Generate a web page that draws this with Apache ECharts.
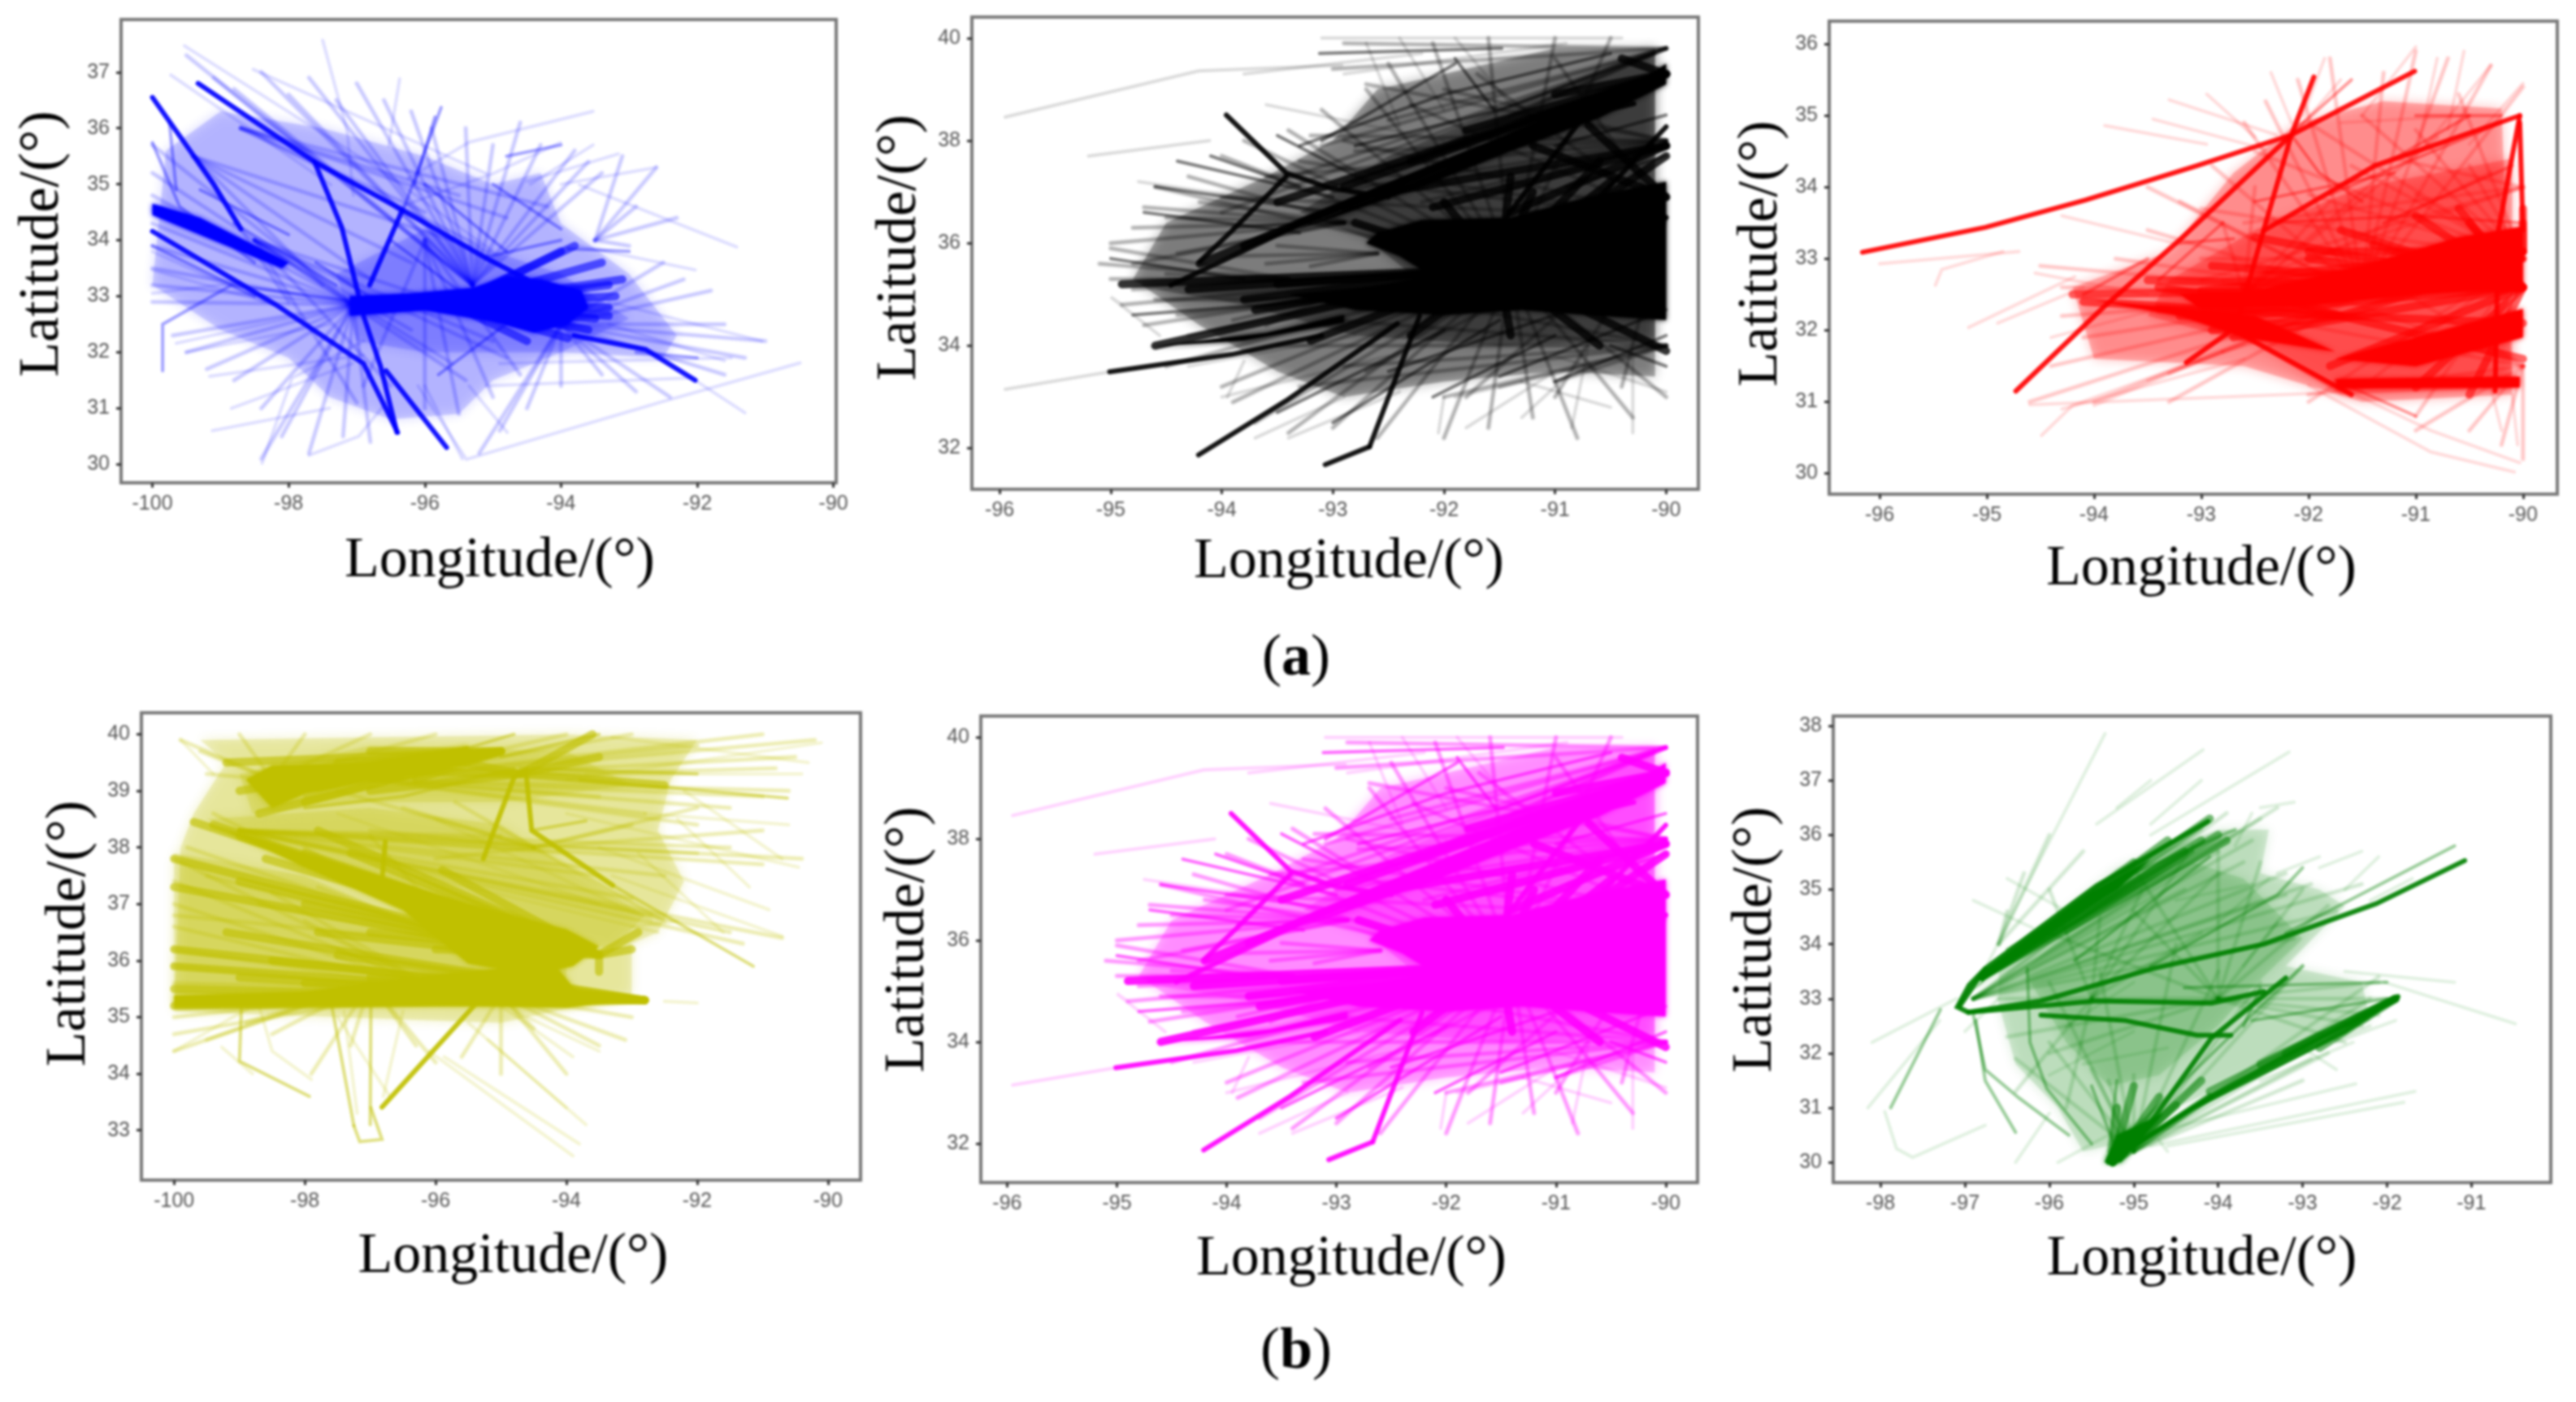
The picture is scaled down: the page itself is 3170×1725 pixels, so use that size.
<!DOCTYPE html>
<html>
<head>
<meta charset="utf-8">
<style>
html,body{margin:0;padding:0;background:#fff}
#main{width:3170px;height:1725px}
#main canvas{filter:blur(1.4px)}
</style>
<script src="https://cdn.jsdelivr.net/npm/echarts@6/dist/echarts.min.js"></script>
</head>
<body>
<div id="main"></div>
<script>
// tick labels
var lonTicksA = [-100, -98, -96, -94, -92, -90]
var lonTicksB = [-96, -95, -94, -93, -92, -91, -90]
var lonTicksC = [-98, -97, -96, -95, -94, -93, -92, -91]
var latTicksBlue = [30, 31, 32, 33, 34, 35, 36, 37]
var latTicksBlack = [32, 34, 36, 38, 40]
var latTicksRed = [30, 31, 32, 33, 34, 35, 36]
var latTicksYellow = [33, 34, 35, 36, 37, 38, 39, 40]
var latTicksGreen = [30, 31, 32, 33, 34, 35, 36, 37, 38]

// tracks, flat lon,lat,lon,lat...
// *Fans / *Dense: first pair is where the bundle meets, the others are where its tracks end
// *Soft: outline of the areas where the tracks are too many to tell apart
var blueSoft = [
  [-99.8,35.6,-99,36.3,-97.5,36,-96,35.5,-95,35,-94.3,35.2,-94,34.3,-93,33.4,-92.3,32.3,-92.5,31.9,-94,32,-95,31.5,-95.5,30.9,-96.5,30.8,-97.4,31.2,-98,31.9,-99,32.4,-100,33.2],
  [-97.3,33.4,-96,34.2,-95,33.8,-94,33.4,-93,32.6,-94,32,-96,32,-97,32.2]
]
var blueFans = [
  [-95.3,33.2,-99.5,37.3,-99.1,36.9,-98.8,36.7,-98.4,37,-98,36.6,-97.7,36.9,-97.3,36.5,-97,36.8,-96.6,36.5,-96.2,36.3,-95.9,36,-95.4,36,-95,35.7,-94.6,36.1,-94.3,35.7,-93.8,35.6,-93.6,35.4,-93.4,35.2],
  [-97.05,32.85,-100,35.7,-100,35.2,-100,34.8,-100,34.3,-100,33.9,-100,33.5,-100,33.2,-100,32.9,-99.7,32.3,-99.5,32,-99.2,31.7,-98.8,31.5,-98.4,31,-98.1,30.5,-98.4,30.1,-97.7,30.2,-97.2,30.5,-96.8,30.4],
  [-94,32.5,-92.5,33.6,-92.2,33.3,-91.8,33.1,-91.6,32.5,-91,32.2,-91.3,31.9,-91.6,31.6,-92.4,31.2,-92.9,31.3,-93.4,31.6,-94,31.4,-94.5,31,-94.9,30.6,-95.2,30.2],
  [-96,34,-96.9,31.4,-96,31,-95.5,30.9,-95,31.2,-94.6,31.6],
  [-93.5,34,-92.6,35.3,-93.1,35.5,-92.9,34.6,-92.3,34.4,-93,33.9],
  [-98.5,34,-96.2,32.4,-96,33,-95.6,31.8,-95.4,31.5,-96.5,31.4,-97,31.1,-95,32.2,-94.8,31.9],
  [-99.4,35.5,-96.8,33.3,-96.2,33.6,-95.6,34,-97.5,33.2,-98,32.9],
  [-98.7,36,-96,34.5,-95.5,34.8,-94.8,34.4,-95.2,33.9,-94.2,34.6]
]
var blueDense = [
  [-95.6,32.85,-93.3,33.2,-93.2,33,-93.3,32.8,-93.5,32.6,-93.6,32.4,-93.8,33.9,-93.4,33.6,-94,33.8,-93.9,32.25,-94.5,32.2,-93.1,33.3,-93.3,32.65]
]
var blueCore = [
  [-97.1,33,-96.2,33.05,-95.3,33.15,-94.8,33.35,-94.3,33.3,-93.7,33.1,-93.6,32.8,-93.9,32.5,-94.4,32.35,-95,32.55,-96,32.75,-97.1,32.65],
  [-100,34.65,-99.3,34.4,-98,33.6,-98.1,33.5,-99.4,34.15,-100,34.45]
]
var blueStrong = [
  [-99.33,36.8,-97.62,35.4,-96.33,34.54,-95.1,33.68,-94.1,33.05],
  [-97.62,35.4,-97.22,34.23,-96.97,33],
  [-96.33,34.54,-96.81,33.2],
  [-100,34.16,-98.19,32.85,-96.9,31.8,-96.4,30.57],
  [-96.9,32.65,-96.65,31.75,-96.41,30.57],
  [-96.57,31.67,-95.68,30.3],
  [-93.81,32.3,-92.76,32.05,-92.03,31.5],
  [-100,36.55,-99.1,35,-98.7,34.2]
]
var blueMid = [
  [-95.76,36.37,-96.3,34.6],[-95.85,36.2,-96.15,35],[-99.75,36.1,-99.65,34.9],
  [-99.85,31.67,-99.85,32.5,-98.84,33.2,-97,32.9],[-100,35.74,-99.6,34.6,-98.5,33.6],
  [-97.3,33.2,-98.8,34.3],[-95.1,33.7,-94,34],[-93.9,33.85,-93,33.8],[-92.9,32,-92,31.9],
  [-100,33.9,-98.5,33],[-99.3,34.9,-98,34.1],[-97.6,33.6,-96.7,32.9],[-96.5,34,-95.5,33.1],
  [-95,35,-94,34.2],[-94.8,35.5,-94,35.7],[-96,35,-94.8,33.8],[-95.8,31.6,-94.7,32.6]
]
var blueFaint = [
  [-99.53,37.47,-96.57,35.19,-95,33.8],[-98.52,37.05,-95.1,35.19],[-97.5,37.57,-97.14,35.95,-97.05,34.8],
  [-96.37,36.88,-96.53,35.68],[-93.53,36.3,-95.35,35.75,-96.25,35.1],[-94.01,35.74,-95,35.19,-96.35,34.6],
  [-93.53,35.7,-94.45,35],[-92.6,35.3,-94,35],[-93.16,35.54,-94.5,35.05],[-91.42,33.88,-93.73,34.99],
  [-92.03,33.47,-93.73,33.9],[-91.05,32.2,-93.3,32.9],[-90.49,31.81,-92.51,31.12,-95.39,30.09,-96.1,31.4],
  [-91.3,30.92,-92.03,31.5],[-99.73,36.95,-97.38,34.99],[-99.12,30.6,-97.4,31],[-98.39,30.02,-97.95,31.54,-96.9,32.2],
  [-97.7,30.16,-96.97,30.5,-96.57,31.1],[-98.84,31,-97.06,31.8],[-99.65,32.16,-97.06,32.85],[-99.5,32,-97.4,32.5],
  [-99.16,31.57,-96.9,31.95],[-100,33.47,-98.19,32.85],[-100,33.05,-98.7,33.25],[-100,33.8,-98.35,32.9],
  [-95.35,31.4,-94.79,30.57],[-96,31.4,-95.45,30.1],[-95.1,31.4,-92.1,31.54],[-94.9,31.8,-91.5,31.9],[-93.3,32.5,-91.6,31.85]
]

var blackSoft = [
  [-94.8,35.3,-94.5,36.4,-93.6,37.3,-93,38,-92.6,39,-91,39.8,-90.1,39.8,-90.1,33.4,-91,33.5,-92,33.3,-92.9,33,-93.5,33.5,-94.2,34.4],
  [-93.3,36.6,-92.5,37.7,-91.5,38.6,-90.1,39.8,-90.1,34.1,-91.5,34,-92.8,34.2,-93.8,34.8,-94.6,35.1,-93.5,35.3,-92.3,35.4,-92.7,36.1]
]
var blackFans = [
  [-91.4,35.5,-94.6,37.1,-94.3,37.3,-94,37.7,-93.8,38,-93.4,38.2,-93.1,38.6,-92.7,39,-92.5,39.5,-92.1,39.9,-91.6,40,-91,40,-90.5,40,-94.9,34.8,-94.7,34.4,-94.3,34.2,-94.5,33.6,-94,33.2,-93.9,32.9,-93.7,32.5,-93.4,32.3,-93,32.4,-92.6,32.2,-92,32.2,-91.6,32.4,-91.2,32.6,-90.8,32.2,-90.3,32.6,-90,33],
  [-90,36.5,-92.9,38,-92.3,38.7,-91.7,39.3,-91,39.6,-94,36.9,-93,34.9,-92.7,33.5,-91.8,33,-91,33,-90.4,33.2,-93.3,37.6,-92.8,37.2],
  [-90,38,-92.7,39.1,-93.2,38.1,-93.6,37.3,-93,37,-92,39,-92.8,37.8,-91.6,36.9,-92.2,36.8],
  [-90,39.8,-92.5,38.4,-93.1,37.9,-93.5,37.2,-94,36.6,-91.4,38.5,-92,37.9,-92.9,39.9,-93,39.4],
  [-90,34,-92.5,35,-93,34.5,-93.5,34,-92,33,-91.5,33.2,-91,33.3,-93.3,33.2,-92.9,33.6],
  [-93.4,35.3,-95,35.3,-95.1,35.6,-95,35.9,-94.8,35.1,-94.5,35.4,-94.7,35.2],
  [-92.9,36.4,-95,36,-94.8,36.3,-94.7,36.7,-94.4,35.8,-94.8,35.6,-94.2,36.8,-94.5,36.5],
  [-93.1,34.9,-94.4,34.6,-94.6,34.9,-93.9,34.5,-93.6,34.4],
  [-92.6,35.8,-93.5,35.95,-93.9,35.75,-93.2,35.55,-93.6,35.6]
]
var blackDense = [
  [-91.5,35.5,-90.5,37.2,-91.2,37,-92,36.8,-92.8,36.4,-93.5,35.2,-94.3,35.1,-94.9,35.2,-93.7,34.7,-94.6,34,-93.2,34.1,-92.3,34.2,-91.4,34.2,-90.6,34,-90,33.9,-91.4,37.3,-90.6,37.6,-90,37.7,-93.8,34.9],
  [-90,39.3,-93.8,35.95,-93.3,36.4,-92.9,36.7,-94.2,35.6,-93.5,36.8,-92.9,37.1,-92.3,37.6,-91.8,38.2,-91,38.9,-90.4,39.6],
  [-90,37.9,-91.4,36.6,-92.1,36.7,-92.5,37],[-90,36.9,-90.7,38.3,-91.2,37.9]
]
var blackCore = [
  [-92.6,36.2,-92.2,36.45,-91.4,36.5,-90.7,36.9,-90,37.2,-90,34.5,-90.7,34.6,-91.3,34.7,-92,34.6,-92.8,34.7,-93.4,35,-92.4,35.2,-92.1,35.35,-92.4,35.75,-92.7,36],
  [-93.4,36.2,-92.9,36.65,-92.2,37.25,-91.4,38,-90.6,38.7,-90,39.5,-90,39.1,-90.6,38.45,-91.4,37.8,-92.2,37.1,-93,36.5],
  [-94.66,33.98,-93.6,34.25,-92.9,34.6,-92.9,34.45,-93.8,34.1]
]
var blackStrong = [
  [-94.21,31.87,-93.42,32.93,-92.42,34.43],
  [-92.67,32.03,-92.42,33.45,-92.22,34.58],
  [-93.07,31.68,-92.67,32.03],
  [-93.96,38.5,-93.42,37.37,-93.02,37.07,-92.5,36.9],
  [-94.46,35.18,-94,35.65,-93.27,36.4],
  [-93.42,37.3,-93.91,36.24,-94.2,35.64],
  [-91.43,36.54,-90.73,38.5,-90.29,38.72],
  [-90.73,36.6,-90,38.27],
  [-95.01,33.49,-93.91,33.83,-93.1,34.2]
]
var blackMid = [
  [-93.12,39.7,-91.48,39.8],[-91.9,39.6,-91.55,38.6],[-93.9,36.3,-93.2,36.4],[-93.1,38,-91.9,39.5],
  [-92.8,37.9,-91.5,38.6,-90.1,39.7],[-93.3,37.9,-92,38.9,-90.5,39.7],[-92.5,33.5,-91,34.6],[-93.5,32.7,-92,34.3],
  [-93,32.5,-91.5,34.5],[-92.1,33,-91,34.2],[-91,33.3,-90,34.2],[-91.5,33.4,-90,34.7],[-94.8,34.6,-93,34.9],
  [-94.7,36.6,-93.3,36.2],[-94.6,37.1,-93,36.6],[-94.4,37.6,-93,36.9],[-93.5,38.1,-92.7,37.2],[-95,35.7,-93.8,35.3],
  [-90.5,34,-90,33.6],[-91,37.9,-90,38.5],[-90.9,37.1,-90,37.7],[-94.1,37.7,-93.3,37.1]
]
var blackFaint = [
  [-95.95,33.15,-95.01,33.49],[-95.95,38.46,-94.21,39.36,-92.92,39.47],[-95.2,37.7,-94.11,38],
  [-94.9,34.8,-95,34.95,-94.56,34.2],[-94.75,37.2,-93.5,36.8],[-93.8,39.3,-92.2,39.7],[-93.1,40,-90.4,40],
  [-92.7,39.9,-92.4,38.3],[-92.4,40,-92,38.6],[-91.9,40,-91.4,38.7],[-92.9,39.3,-90.9,39.9],[-93.6,38.7,-92,38],
  [-94,33,-92.5,33.8],[-94.3,33.6,-92.8,34.2],[-93.95,33,-93.8,33.7],[-93.7,32.2,-92.9,33],[-93.4,32.2,-92.4,33.1],
  [-92.05,32.3,-92,33],[-91.8,32.4,-91,33.5],[-91.3,32.6,-90.9,33.4],[-90.85,32.4,-90.7,34],[-90.3,32.3,-90.3,33.8],
  [-90.5,32.8,-91.3,33.3],[-91.9,33,-91.3,33.3],[-90,33.1,-91,33.8]
]

var redSoft = [
  [-94.2,32.6,-93.3,33.1,-92.7,34.2,-92.1,34.9,-91.3,35.2,-90.2,35.1,-90.1,31.1,-91.5,31,-92.6,31.5,-94,31.6],
  [-93.3,32.7,-92.5,33.4,-91.5,34,-90.1,34.4,-90.1,31.2,-91.7,31.1,-92.5,31.8,-93.5,32.2]
]
var redFans = [
  [-91.5,32.5,-94.5,32.9,-94.3,32.6,-94.3,32.2,-94.1,31.9,-94.4,31.5,-94.6,31,-94,31,-93.3,31,-93.3,31.4,-93.8,33,-93.5,33.4,-93.2,33.8,-93.5,34,-92.9,34.3,-92.6,34.9,-92.4,35.2,-92.1,35.5,-91.8,35.8,-91.3,35.6,-91,35.9,-90.7,35.8,-90.3,35.7,-90,35.4],
  [-90,33,-92.5,34.5,-92,34.9,-91.5,35,-91,34.8,-90.6,35.3,-93,33.7,-93,33,-92.8,32.7,-92.8,31.7,-92,31,-91.5,31.2,-91,30.8,-92,33.9,-91.6,34.3,-91,33.9,-90.5,34.3],
  [-90,31.5,-91,30.6,-90.5,30.6,-90.2,30.4,-90,30.2,-92,31.1,-92.5,32.2,-91.5,32.9,-92.7,33],
  [-92.6,32.5,-91.8,33.8,-91.3,34.2,-90.8,34.7,-90.3,34.2,-92.8,33.5,-92.5,34],
  [-90,34,-93,32.7,-92.4,32.8,-91.2,34.4,-92.6,33.5]
]
var redDense = [
  [-90,32.6,-94.2,32.5,-93.5,32.7,-92.9,32.9,-92.5,33.3,-91.7,33.4,-91,33.6,-90.6,33.7,-93.2,32.2,-92.7,31.9,-91.8,31.5,-91,31.2,-90.5,31.1,-92,33,-91.4,33.2,-90.5,33.5],
  [-91.7,32.2,-94.1,32.4,-93.4,32.3,-92.9,32,-93.4,32.6,-92.6,32.6,-90,32.1,-90,31.6,-90,33],
  [-90,33.1,-93,32.55,-92.5,32.75,-92,33.1,-90,33.5,-90,33.7]
]
var redCore = [
  [-92.5,32.55,-91.5,32.9,-90.6,33.3,-90,33.45,-90,32.6,-91,32.5,-92,32.35],
  [-91.75,31.6,-91,31.9,-90.5,32.1,-90,32.3,-90,31.9,-91,31.5],
  [-94,32.42,-92.5,32.2,-91.75,31.7,-92.6,31.9,-93.2,32.2],
  [-93.2,32.5,-92,32.6,-92,32.35,-93,32.3],
  [-91.74,31.32,-90.03,31.35,-90.03,31.2,-91.74,31.19]
]
var redStrong = [
  [-96.16,33.09,-95.01,33.44,-94.08,33.82,-93.04,34.3,-92.16,34.73,-91.01,35.62],
  [-94.73,31.15,-93.92,32.31,-93.19,33.28,-92.16,34.73,-91.95,35.54],
  [-92.16,34.73,-92.42,33.39,-92.68,32.04,-93.14,31.55],
  [-92.42,33.39,-91.38,34.3,-90.03,35],
  [-90.03,35,-90.23,33.39,-90.26,31.15],
  [-90.03,34.9,-90,33.4],
  [-92.7,32,-91.6,31.1]
]
var redMid = [
  [-93.19,33.22,-92.7,33.28],[-92.4,33.5,-91,33.6,-90,33.5],[-92.16,34.73,-91.9,34.2,-91.5,33.8],[-92.2,34.7,-91.6,35.5],
  [-91.8,33.9,-90.2,34.9],[-91.3,33.5,-90.1,34.3],[-93.4,32.7,-92.8,33.5],[-91,35,-90.2,35],[-91.75,31.3,-91,30.8],
  [-94.1,32.5,-93.5,33],[-92.5,33.8,-91.2,34.2],[-91.2,34.4,-90.5,35]
]
var redFaint = [
  [-91.74,31.23,-90.86,30.6,-90.03,30.15],[-92,31.23,-90.86,30.3,-90.08,30.02],[-94.6,30.96,-91.9,31.12],[-94.3,30.9,-92.6,31.6],
  [-94.49,30.53,-94.2,30.95,-93,31.6],[-96,32.93,-94.7,33.1],[-95.48,32.63,-95.42,32.85,-94.85,33.1],[-95.17,32.04,-94.18,32.75],
  [-94.9,32.1,-94.1,32.6],[-93.45,34.95,-92.4,34.53],[-93.9,34.86,-92.95,34.6],[-93.3,35.22,-92.3,34.73],[-92.95,35.3,-92.5,34.7],
  [-92.35,35.6,-92.16,34.9],[-91.85,35.8,-92.05,35],[-91.7,35.5,-92.1,34.8],[-91,35.96,-91.5,35],[-90.8,35.8,-91,34.4],
  [-90.55,35.9,-90.7,34.8],[-90.3,35.7,-90.9,34.6],[-90,35.45,-90.5,34.6],[-91.7,34.9,-90.5,35],[-94.3,33.6,-93.2,33.2],
  [-94.55,32.8,-93.5,32.5],[-94.4,31.9,-93.4,32.3],[-93.5,31.3,-92.6,31.8],[-94,30.95,-92.8,31.7],[-90.2,30.6,-90.3,31.2],[-90.05,30.4,-90.1,31.1]
]

var yellowSoft = [
  [-99.9,38,-99.7,38.6,-99.2,39.5,-99.6,39.9,-94,40,-92,39.9,-92.4,39.2,-92.6,38.3,-92.2,37.4,-92.6,36.5,-93,36.3,-93,35.4,-95,34.9,-100,35.1],
  [-100,37.9,-98,37.5,-96,36.5,-94,36,-94,35.4,-100,35.3],
  [-99.5,38.5,-97,38.7,-95,38.4,-92.8,36.8,-93.3,36.2,-96,37,-98,37.7],
  [-99,39.3,-97,39.8,-94,39.7,-93,39.1,-95,38.8,-97,38.8,-98.8,38.6]
]
var yellowFans = [
  [-96,35.5,-100,37.8,-100,37.4,-100,37,-100,36.6,-100,36.2,-100,35.9,-100,35.6,-100,35,-100,34.7,-98.5,37.2,-98,36.7,-97.5,36.2],
  [-95.5,36.3,-99.8,38,-99.5,37.5,-98,38,-97,38.2,-99.4,38.6,-98.7,37,-97.8,37.3,-100,36.8],
  [-97,39.2,-90.2,39.9,-90.5,39.6,-90.8,39.4,-90.6,39,-91,38.9,-91.5,38.7,-92,39.8,-93,40,-94,40,-91,40,-92,38.4,-92.8,38.6,-93.5,38.9],
  [-98.5,39.2,-99.9,39.9,-99.5,39.3,-99,40,-98,40,-97,40,-96,40,-99.6,39.7],
  [-99,38.3,-92.7,36.8,-93,37.1,-93.5,37.5,-92.5,37.5,-92,37.9,-91.5,38,-91,37.7,-90.4,37.8,-90.7,36.4,-91.5,36.5,-91.3,36.3,-94,37.9,-95,38.2],
  [-94.5,38,-97.5,39,-96.5,38.7,-95.7,38.8,-92,38.7,-91,38.3,-92.5,36.7,-97,38.3,-96,37.8,-93,38.4],
  [-97,35.6,-98.5,34.7,-97.9,34,-97.3,34.5,-96.3,34.5,-96,34.2,-99.5,34.6,-100,34.4,-98.9,34.9],
  [-95,35.4,-93.5,34.5,-93,35,-94,34,-95,34,-95.6,34.3,-94.5,34.8,-93.1,34.6]
]
var yellowDense = [
  [-93.5,36.1,-99.7,38.45,-99,38.2,-98,37.9,-97.3,37.9,-96.6,37.1,-97,36.5,-96,36.2,-92.9,36.5,-93,36.2,-93.5,35.8,-97.8,38.3,-95.9,37.6,-99.4,38.4,-98.6,37.8],
  [-92.8,35.3,-100,35.5,-100,35.2,-98,35.6,-97,35.7,-96,35.3,-100,35.9,-99,35.7,-98.5,36,-97.5,36.1,-100,36.2,-99.2,36.5],
  [-95,39.7,-99.2,39.5,-99,39,-98.7,38.6,-98,38.8,-97.5,39.5,-97,39.7,-96.3,39.2,-98.4,39.3,-97.8,39.05],
  [-93.9,36,-100,37.3,-100,37.8,-99,37.4,-98,37,-97.8,36.5],
  [-94.7,39.3,-98,39.4,-97,39,-96,39.6,-92.5,39.1,-93.5,39.6,-93.6,40]
]
var yellowCore = [
  [-98.9,39.2,-98.5,39.45,-97,39.5,-95.5,39.8,-95.5,39.55,-96.5,39.3,-98,38.95,-98.5,38.7],
  [-99.2,38.3,-98.5,38.05,-97,37.55,-95.5,37,-94,36.55,-93.5,36.25,-93.9,35.9,-94.5,35.75,-95.5,35.95,-96.5,36.9,-98,37.65],
  [-100,35.38,-98,35.45,-96,35.75,-94.2,35.95,-93.8,35.4,-93,35.3,-94,35.17,-96,35.2,-100,35.17]
]
var yellowStrong = [
  [-94.8,39.24,-94.62,39.36,-94.53,38.3,-93.29,37.33],
  [-95.27,37.8,-94.8,39.24],
  [-96.77,38.1,-96.82,37.4],
  [-96.82,33.41,-95.35,35.28]
]
var yellowMid = [
  [-94.53,38.3,-93.7,38.47],[-93.29,37.33,-91.14,35.9],[-97,33.1,-96.99,35.2],[-97.25,33.08,-97.6,35.28],
  [-97.25,33.08,-97.16,32.8,-96.82,32.84,-96.99,33.4],[-98.97,35.2,-99,34.22,-97.93,33.6],[-94.8,39.4,-96.5,38.9,-98,38.7],
  [-94.7,39.4,-92,39.3],[-93.8,39.2,-90.62,38.87],[-95,39.6,-93.5,40],[-98,38.9,-94.8,40]
]
var yellowFaint = [
  [-99.27,34.47,-98.8,34],[-95.87,34.3,-93.8,32.76],[-96.1,34.4,-93.9,32.55],[-95.5,34.9,-93.7,33.1],[-95.2,34.6,-94,33.4],
  [-94,39.2,-90.1,39.85],[-93.7,39.3,-90.4,39.3],[-94,38.6,-90.45,37.65],[-93.3,37.5,-90.7,36.43],[-93.5,38,-90.9,36.9],
  [-93.3,39.95,-90.3,39.5],[-92.8,38.6,-90.6,38.4],[-93,36.6,-92.3,36.7],[-92.5,35.28,-92,35.25],[-100,34.4,-98.8,35.2],
  [-99.9,39.9,-99.4,39.3],[-98.7,35.2,-98.5,34.4,-97.9,33.9],[-97.5,35,-96.7,33.6],[-97.4,35.1,-97.2,33.3],[-96.5,35.1,-96.8,33.6],
  [-95,35.2,-93.9,34.3],[-94.6,35,-93.5,34.4],[-96.2,37.5,-92.6,36.5],[-96,38.5,-92.7,36.7],[-97.5,38.6,-93.5,37],
  [-92.9,37.9,-91.6,36.5],[-92.3,38.5,-91.2,37.3],[-92.2,39,-90.7,37.8]
]

var greenSoft = [
  [-96.6,33.6,-95.2,35.4,-94,36.1,-93.4,36.1,-93.5,35.3,-92.8,35,-92.5,34.7,-93.2,33.6,-92.3,33.3,-92.2,32.6,-93.5,31.7,-94.5,31,-95,30.4,-95.6,30.2,-95.9,31,-96.4,31.8,-96.6,32.9],
  [-96.3,33.5,-95.4,34.8,-94.3,35.5,-93.7,35.2,-93,34.1,-93.6,33.2,-94,32.5,-94.7,31.6,-95.3,31.4,-95.8,32.2]
]
var greenFans = [
  [-96.9,33,-93.9,36.4,-93.5,36.3,-93.3,36.5,-93.6,35.9,-93.7,35.5,-93.2,35.3,-93.2,34.9,-92.9,35.1,-92.3,35.1,-92.6,34.6,-93.1,34.1,-94.2,36.1,-94,35.7,-94.4,35],
  [-95,30.2,-92.1,33.4,-92.2,33,-92.5,32.5,-92.7,32,-93.5,33.3,-94,33.5,-93,33.6,-94.5,34,-95.4,33.5,-96,33.3,-95.3,31.5,-95,31.6,-95.5,31.7,-96,32.2,-96.4,31.9,-92.9,31.9,-93,31.5],
  [-94,33,-92.1,33.3,-92,33,-92.1,32.7,-92.5,32.2,-92.3,32.5,-96.5,32.3,-96,32,-96.6,33,-93.5,35.5,-93,35,-92.7,34.7,-94,35.7,-95,35.4,-95,34.6,-96,34.2],
  [-95.5,33,-94.3,35.8,-94,35.3,-95.4,34.5,-96,35,-94.9,35,-94.2,34.2,-96.4,31.3,-95.8,31],
  [-96.6,34,-96.3,35.3,-96,36,-95.6,35.7,-96.5,34.6]
]
var greenDense = [
  [-96.8,33.4,-94.1,36.3,-94.4,35.7,-94,36,-95,35.5,-95.3,35,-94.2,35.9,-93.9,35.9,-94.6,35.9],
  [-95.25,30,-94.1,31.2,-94.2,31.5,-95,31.4,-94.7,31.2,-94.5,31.05,-95.2,31],
  [-91.9,33,-94.1,31.3,-93.5,31.8,-93.2,32,-92.8,32.1]
]
var greenCore = [
  [-96.9,33.15,-96.5,33.8,-95.5,34.95,-94.8,35.55,-95.2,35,-96,34.25,-96.65,33.5],
  [-95.35,30,-95.15,30,-94.65,30.9,-95.2,30.5]
]
var greenStrong = [
  [-97.06,32.87,-96.76,33.55,-95.44,35.07,-94.12,36.25],
  [-96.76,33.55,-96.95,33.25,-97.09,32.85,-96.96,32.75,-96.1,32.96,-94.78,33.55,-93.46,34,-92.13,34.74,-91.08,35.53],
  [-96.96,32.75,-95.44,32.96,-94.08,32.92,-93.46,33.13],
  [-96.1,32.7,-95.1,32.6,-94.25,32.33,-93.85,32.33],
  [-93.2,33.38,-94.08,32.28,-94.91,30.5,-95.3,30],
  [-95.3,30,-94.12,31.18,-91.87,33.04],
  [-95.1,30.2,-94.3,31,-92.5,32.4,-91.9,33]
]
var greenMid = [
  [-96.26,33.55,-96.23,32.2,-96.03,31.35,-95.5,30.34],[-96.9,32.7,-96.76,31.7,-96.36,31.18,-95.77,30.5],
  [-96.4,30.55,-96.76,31.5,-96.87,32.6],[-97.29,32.8,-97.88,31],[-96.5,33.9,-95,35.3,-93.8,36.1],[-95.8,34.2,-94.3,35.7],
  [-95.7,33.7,-94.1,35.6],[-94.8,33.6,-93.3,34.9,-93,35.4],[-93.2,34.2,-91.2,35.8],[-93.7,32.5,-93.5,33.2],
  [-95,30.6,-93,33.6],[-95.5,31.4,-95.2,30.2],[-95.2,31.5,-95.3,30.2],[-94.4,33.2,-92,33.3],[-93.6,32.6,-92,33]
]
var greenFaint = [
  [-95.34,37.86,-96.1,35.58,-96.76,33.55],[-94.18,37.56,-95.44,36.2],[-93.16,37.52,-94.8,36],[-92.03,33.3,-90.48,32.54],
  [-91.67,31.3,-94.8,30.3],[-92.37,31.44,-94.91,30.5],[-91.8,31.1,-94.6,30.3],[-97.95,30.93,-97.81,30.25,-97.62,30.09,-96.76,30.68],
  [-98.15,31,-97.3,32.6],[-98.1,32.2,-97.1,33],[-96.4,30,-96,30.9],[-95.9,30,-95.3,30.5],[-95.2,36.5,-94.8,37],[-94.8,36.2,-94.2,37],
  [-93.5,36.5,-93.1,36.6],[-93.8,35.8,-93.6,36.4],[-93.3,35.3,-92.8,35.6],[-92.5,35,-92.1,35.6],[-92.8,35.4,-92.3,35.7],
  [-92.2,34.8,-91.7,35.2],[-92.5,33.5,-91.2,33.3],[-93,32,-92.2,32.5],[-93.5,31.5,-92.4,32.2],[-93,32.1,-92.6,31.7],[-91.9,32.6,-92.6,32.2],
  [-96.9,34.8,-96.2,34.3],[-96.5,35.2,-95.8,34.6],[-97,32.4,-96.6,33],[-95.8,32.5,-95,33.3],[-96,31.6,-95,32.4],[-95.6,31.8,-94.6,32.1],
  [-94,34.4,-93.4,35.2],[-94.5,34.8,-93.6,35.1],[-93.7,33.6,-93.3,34.4],[-94.7,30.4,-94.6,30.2]
]

// layout of the six panels, px, and axis ranges; a = opacity of fans, faint lines, mid lines, dense fans, soft areas
var panels = [
  {color:'#0000ff', x:[-100.46,-89.96], y:[29.67,37.94], box:[149,24,880,570], lon:lonTicksA, lat:latTicksBlue, soft:blueSoft, fans:blueFans, dense:blueDense, core:blueCore, strong:blueStrong, mid:blueMid, faint:blueFaint, a:[.12,.13,.36,.6,.16], nameX:101, nameY:62, dx:26, dy:9},
  {color:'#000000', x:[-96.25,-89.71], y:[31.2,40.41], box:[1196,21,894,581], lon:lonTicksB, lat:latTicksBlack, soft:blackSoft, fans:blackFans, dense:blackDense, core:blackCore, strong:blackStrong, mid:blackMid, faint:blackFaint, a:[.18,.14,.5,.8,.3], nameX:93, nameY:55, dx:17, dy:7},
  {color:'#ff0000', x:[-96.47,-89.68], y:[29.71,36.32], box:[2251,26,896,582], lon:lonTicksB, lat:latTicksRed, soft:redSoft, fans:redFans, dense:redDense, core:redCore, strong:redStrong, mid:redMid, faint:redFaint, a:[.13,.14,.4,.6,.26], nameX:88, nameY:58, dx:10, dy:5},
  {color:'#c0c000', x:[-100.5,-89.5], y:[32.12,40.38], box:[174,877,885,575], lon:lonTicksA, lat:latTicksYellow, soft:yellowSoft, fans:yellowFans, dense:yellowDense, core:yellowCore, strong:yellowStrong, mid:yellowMid, faint:yellowFaint, a:[.18,.18,.5,.65,.22], nameX:93, nameY:60, dx:15, dy:16},
  {color:'#ff00ff', x:[-96.24,-89.71], y:[31.23,40.42], box:[1207,881,882,574], lon:lonTicksB, lat:latTicksBlack, soft:blackSoft, fans:blackFans, dense:blackDense, core:blackCore, strong:blackStrong, mid:blackMid, faint:blackFaint, a:[.26,.18,.6,.9,.26], nameX:94, nameY:60, dx:15, dy:12},
  {color:'#008000', x:[-98.56,-90.06], y:[29.63,38.18], box:[2256,881,883,574], lon:lonTicksC, lat:latTicksGreen, soft:greenSoft, fans:greenFans, dense:greenDense, core:greenCore, strong:greenStrong, mid:greenMid, faint:greenFaint, a:[.1,.12,.4,.55,.14], nameX:100, nameY:60, dx:12, dy:12}
]

var serif = '"Liberation Serif", "DejaVu Serif", serif'

function chunk(flat) {
  var out = []
  for (var i = 0; i < flat.length; i += 2) out.push([flat[i], flat[i + 1]])
  return out
}

// one track per end point of a bundle
function spokes(fans) {
  var out = []
  fans.forEach(function (f) {
    for (var i = 2; i < f.length; i += 2) out.push([f[0], f[1], f[i], f[i + 1]])
  })
  return out
}

function polySeries(i, polys, color, opacity, blur) {
  var shapes = polys.map(chunk)
  return {
    type: 'custom', xAxisIndex: i, yAxisIndex: i, silent: true,
    data: shapes.map(function (s) { return s[0] }),
    renderItem: function (params, api) {
      return {
        type: 'polygon',
        shape: { points: shapes[params.dataIndex].map(function (p) { return api.coord(p) }) },
        style: { fill: color, opacity: opacity, shadowBlur: blur, shadowColor: color }
      }
    }
  }
}

function lineSeries(i, tracks, color, width, opacity) {
  return {
    type: 'lines', coordinateSystem: 'cartesian2d', polyline: true, xAxisIndex: i, yAxisIndex: i, silent: true,
    lineStyle: { color: color, width: width, opacity: opacity, cap: 'round' },
    data: tracks.map(function (t) { return { coords: chunk(t) } })
  }
}

var grids = [], xAxes = [], yAxes = [], series = []
panels.forEach(function (p, i) {
  grids.push({ left: p.box[0], top: p.box[1], width: p.box[2], height: p.box[3], show: true, borderColor: '#777', borderWidth: 4, backgroundColor: '#fff' })
  var tick = { lineStyle: { color: '#333', width: 3 }, length: 6 }
  var label = { color: '#555', fontSize: 25, fontFamily: 'Liberation Sans' }
  xAxes.push({
    type: 'value', gridIndex: i, min: p.x[0], max: p.x[1], splitLine: { show: false }, axisLine: { show: false },
    axisTick: Object.assign({ customValues: p.lon }, tick),
    axisLabel: Object.assign({ customValues: p.lon, margin: 14 }, label),
    name: 'Longitude/(°)', nameLocation: 'middle', nameGap: p.nameY, nameMoveOverlap: false,
    nameTextStyle: { fontFamily: serif, fontSize: 70, color: '#000', padding: [0, 0, 0, p.dx * 2] }
  })
  yAxes.push({
    type: 'value', gridIndex: i, min: p.y[0], max: p.y[1], splitLine: { show: false }, axisLine: { show: false },
    axisTick: Object.assign({ customValues: p.lat }, tick),
    axisLabel: Object.assign({ customValues: p.lat, margin: 14 }, label),
    name: 'Latitude/(°)', nameLocation: 'middle', nameGap: p.nameX - 40, nameRotate: 90, nameMoveOverlap: false,
    nameTextStyle: { fontFamily: serif, fontSize: 70, color: '#000', padding: [0, 0, 0, p.dy * 2] }
  })
  series.push(polySeries(i, p.soft, p.color, p.a[4], 14))
  series.push(lineSeries(i, spokes(p.fans), p.color, 6, p.a[0]))
  series.push(lineSeries(i, spokes(p.fans), p.color, 2.5, p.a[0]))
  series.push(lineSeries(i, p.faint, p.color, 4, p.a[1]))
  series.push(lineSeries(i, p.mid, p.color, 4, p.a[2]))
  series.push(lineSeries(i, spokes(p.dense), p.color, 10, p.a[3]))
  series.push(polySeries(i, p.core, p.color, 1, 6))
  series.push(lineSeries(i, p.strong, p.color, 6, .92))
})

var captionRich = {
  r: { fontFamily: serif, fontSize: 72, fontWeight: 'normal', color: '#000' },
  b: { fontFamily: serif, fontSize: 72, fontWeight: 'bold', color: '#000' }
}

var myChart = echarts.init(document.getElementById('main'))
myChart.setOption({
  animation: false,
  backgroundColor: '#fff',
  title: [
    { text: '{r|(}{b|a}{r|)}', left: 1590, top: 806, textAlign: 'center', textVerticalAlign: 'middle', textStyle: { rich: captionRich } },
    { text: '{r|(}{b|b}{r|)}', left: 1590, top: 1659, textAlign: 'center', textVerticalAlign: 'middle', textStyle: { rich: captionRich } }
  ],
  grid: grids,
  xAxis: xAxes,
  yAxis: yAxes,
  series: series
})
</script>
</body>
</html>
